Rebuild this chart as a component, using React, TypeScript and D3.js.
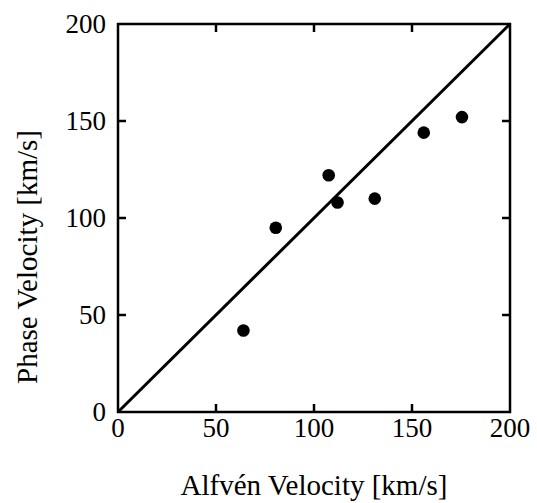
import React from "react";
import * as d3 from "d3";

const alfvenVelocity = [64, 80.5, 107.5, 112, 131, 156, 175.5];
const phaseVelocity = [42, 95, 122, 108, 110, 144, 152];
const tickValues = [0, 50, 100, 150, 200];
const xLabel = "Alfvén Velocity [km/s]";
const yLabel = "Phase Velocity [km/s]";

export default function App() {
  const W = 537, H = 503;
  const left = 118, right = 510, top = 24, bottom = 412;
  const x = d3.scaleLinear().domain([0, 200]).range([left, right]);
  const y = d3.scaleLinear().domain([0, 200]).range([bottom, top]);
  const font = "'Liberation Serif', 'Times New Roman', serif";
  const tl = 8;
  const line = d3.line<number>().x((d) => x(d)).y((d) => y(d));
  return (
    <svg width={W} height={H} style={{ position: "absolute", left: 0, top: 0 }}>
      <rect width={W} height={H} fill="#fff" />
      {tickValues.slice(1, -1).map((t) => (
        <g key={"t" + t} stroke="#000" strokeWidth={2.5}>
          <line x1={x(t)} x2={x(t)} y1={bottom} y2={bottom - tl} />
          <line x1={x(t)} x2={x(t)} y1={top} y2={top + tl} />
          <line x1={left} x2={left + tl} y1={y(t)} y2={y(t)} />
          <line x1={right} x2={right - tl} y1={y(t)} y2={y(t)} />
        </g>
      ))}
      <path d={line([0, 200]) || ""} stroke="#000" strokeWidth={3} fill="none" />
      <rect x={left} y={top} width={right - left} height={bottom - top} fill="none" stroke="#000" strokeWidth={2.5} />
      {alfvenVelocity.map((v, i) => (
        <circle key={i} cx={x(v)} cy={y(phaseVelocity[i])} r={6.3} fill="#000" />
      ))}
      {tickValues.map((t) => (
        <text key={"xl" + t} x={x(t)} y={bottom + 25} textAnchor="middle" fontFamily={font} fontSize={27}>
          {t}
        </text>
      ))}
      {tickValues.map((t) => (
        <text key={"yl" + t} x={left - 12} y={y(t) + 9} textAnchor="end" fontFamily={font} fontSize={27}>
          {t}
        </text>
      ))}
      <text x={(left + right) / 2} y={495} textAnchor="middle" fontFamily={font} fontSize={29}>
        {xLabel}
      </text>
      <text transform={`translate(37, 257) rotate(-90)`} textAnchor="middle" fontFamily={font} fontSize={29}>
        {yLabel}
      </text>
    </svg>
  );
}
